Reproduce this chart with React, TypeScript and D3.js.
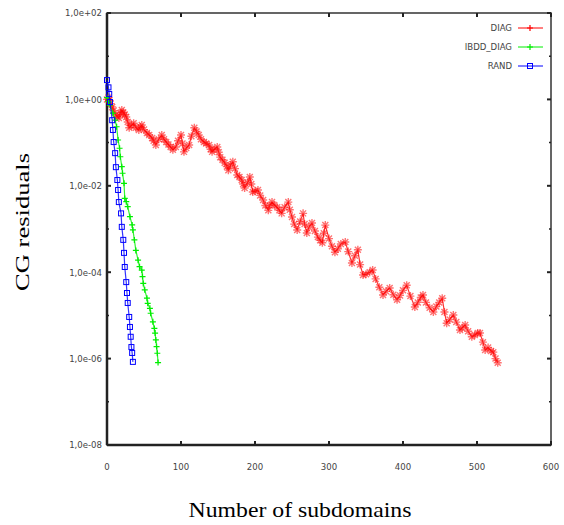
import React from 'react';
import * as d3 from 'd3';

// DIAG: iteration / residual
const diagIter = [0, 2, 3, 5, 7, 9, 12, 14, 16, 18, 20, 22, 24, 26, 28, 30, 33, 36, 39, 43, 45, 47, 50, 54, 57, 61, 63, 66, 70, 74, 77, 80, 83, 86, 89, 93, 96, 100, 102, 104, 107, 111, 114, 118, 121, 124, 127, 131, 134, 138, 140, 142, 145, 149, 151, 153, 156, 159, 162, 164, 167, 170, 173, 176, 179, 182, 184, 186, 190, 193, 195, 197, 200, 204, 207, 211, 214, 218, 220, 223, 226, 230, 233, 236, 240, 245, 247, 250, 253, 257, 261, 265, 267, 270, 273, 277, 281, 285, 288, 291, 293, 295, 300, 304, 308, 312, 316, 322, 326, 331, 335, 339, 342, 346, 350, 355, 359, 363, 368, 373, 377, 382, 387, 392, 396, 400, 405, 410, 416, 420, 424, 427, 431, 436, 441, 445, 449, 453, 456, 459, 463, 468, 472, 477, 480, 484, 488, 493, 497, 501, 504, 508, 511, 515, 519, 522, 525, 528];
const diagRes = [1.0, 1.1, 0.95, 0.8, 0.67, 0.55, 0.44, 0.4, 0.37, 0.48, 0.57, 0.5, 0.45, 0.39, 0.3, 0.22, 0.25, 0.28, 0.22, 0.196, 0.23, 0.255, 0.2, 0.167, 0.15, 0.128, 0.11, 0.088, 0.12, 0.15, 0.12, 0.103, 0.09, 0.079, 0.068, 0.079, 0.11, 0.15, 0.095, 0.061, 0.075, 0.088, 0.14, 0.22, 0.18, 0.15, 0.12, 0.103, 0.095, 0.088, 0.07, 0.061, 0.07, 0.079, 0.06, 0.046, 0.04, 0.034, 0.028, 0.023, 0.03, 0.036, 0.025, 0.0178, 0.016, 0.0136, 0.011, 0.0089, 0.012, 0.016, 0.011, 0.0072, 0.0075, 0.008, 0.006, 0.0047, 0.0035, 0.0027, 0.0035, 0.0042, 0.0036, 0.0032, 0.0027, 0.0023, 0.0032, 0.0042, 0.0028, 0.0019, 0.0013, 0.00095, 0.0015, 0.0023, 0.0013, 0.00081, 0.0011, 0.00138, 0.0009, 0.00065, 0.00055, 0.00048, 0.0008, 0.00123, 0.0006, 0.0004, 0.00029, 0.00035, 0.00045, 0.0005, 0.0003, 0.000163, 0.00024, 0.00033, 0.00015, 8.6e-5, 9e-5, 1.0e-4, 1.12e-4, 7e-5, 4.5e-5, 2.97e-5, 3.6e-5, 4.3e-5, 3.0e-5, 2.3e-5, 2.9e-5, 3.8e-5, 5.0e-5, 2.8e-5, 1.56e-5, 2.0e-5, 2.6e-5, 2.97e-5, 2.0e-5, 1.5e-5, 1.2e-5, 1.6e-5, 2.0e-5, 2.5e-5, 1.2e-5, 6.6e-6, 8e-6, 1.02e-5, 7e-6, 4.6e-6, 5.2e-6, 6.0e-6, 4.3e-6, 3.2e-6, 3.5e-6, 3.9e-6, 3.9e-6, 2.4e-6, 1.58e-6, 1.8e-6, 1.5e-6, 1.41e-6, 1.0e-6, 8.0e-7];

// IBDD_DIAG
const ibddIter = [0, 2, 4, 8, 11, 13, 15, 17, 18, 20, 21, 23, 24, 26, 28, 31, 34, 35, 37, 39, 42, 44, 47, 48, 49, 51, 54, 55, 58, 59, 62, 64, 65, 66, 67, 68, 69];
const ibddRes = [1.1, 0.885, 0.74, 0.48, 0.33, 0.233, 0.115, 0.074, 0.047, 0.0277, 0.0195, 0.0114, 0.0051, 0.0043, 0.0033, 0.00193, 0.00124, 0.00095, 5.6e-4, 3.2e-4, 1.9e-4, 1.34e-4, 1.12e-4, 7.9e-5, 5.5e-5, 3.9e-5, 2.5e-5, 1.9e-5, 1.46e-5, 1.12e-5, 7.1e-6, 5.0e-6, 3.9e-6, 2.7e-6, 1.9e-6, 1.33e-6, 8.1e-7];

// RAND
const randIter = [0, 2, 3, 4, 7, 8, 9, 11, 12, 14, 15, 16, 19, 20, 22, 23, 24, 26, 27, 28, 30, 31, 32, 33, 34, 35];
const randRes = [2.8, 1.9, 1.33, 0.87, 0.33, 0.196, 0.103, 0.057, 0.027, 0.0136, 0.008, 0.0042, 0.0023, 0.00112, 5.6e-4, 2.8e-4, 1.32e-4, 5.9e-5, 3.3e-5, 1.94e-5, 9.2e-6, 5.4e-6, 3.2e-6, 1.85e-6, 1.35e-6, 8.4e-7];

const xTicks = [0, 100, 200, 300, 400, 500, 600];
const yDecades = [1e2, 1e1, 1, 1e-1, 1e-2, 1e-3, 1e-4, 1e-5, 1e-6, 1e-7, 1e-8];
const yLabels = ['1,0e+02', '1,0e+00', '1,0e-02', '1,0e-04', '1,0e-06', '1,0e-08'];
const yLabelValues = [1e2, 1, 1e-2, 1e-4, 1e-6, 1e-8];

const series = [
  {name: 'DIAG', color: '#ff0000', iter: diagIter, res: diagRes, marker: 'star'},
  {name: 'IBDD_DIAG', color: '#00ee00', iter: ibddIter, res: ibddRes, marker: 'plus'},
  {name: 'RAND', color: '#0000ff', iter: randIter, res: randRes, marker: 'square'},
];

const W = 564;
const H = 525;
const plot = {left: 107, right: 551, top: 13, bottom: 445};
const tickFont = '"DejaVu Sans Condensed", "DejaVu Sans", sans-serif';
const titleFont = '"Liberation Serif", "Times New Roman", serif';

const Marker = ({type, x, y, color}: {type: string, x: number, y: number, color: string}) => {
  if (type === 'square') {
    return <rect x={x - 2.5} y={y - 2.5} width={5} height={5} fill="none" stroke={color} strokeWidth={1}/>;
  }
  if (type === 'plus') {
    return <path d={`M${x - 3},${y}H${x + 3}M${x},${y - 3}V${y + 3}`} stroke={color} strokeWidth={1.2}/>;
  }
  return <path d={`M${x - 4},${y}H${x + 4}M${x},${y - 4}V${y + 4}M${x - 3},${y - 3}L${x + 3},${y + 3}M${x - 3},${y + 3}L${x + 3},${y - 3}`}
               stroke={color} strokeWidth={1.4} strokeOpacity={0.55}/>;
};

export default function App() {
  const x = d3.scaleLinear().domain([0, 600]).range([plot.left, plot.right]);
  const y = d3.scaleLog().domain([1e-8, 1e2]).range([plot.bottom, plot.top]);

  const line = d3.line<[number, number]>()
      .x(d => x(d[0]))
      .y(d => y(d[1]));

  return (
      <svg width={W} height={H} style={{position: 'absolute', left: 0, top: 0, background: '#fff'}}>
        {/* frame */}
        <rect x={plot.left} y={plot.top} width={plot.right - plot.left} height={plot.bottom - plot.top}
              fill="none" stroke="#333" strokeWidth={1.5}/>
        <line x1={plot.left} x2={plot.left} y1={plot.top} y2={plot.bottom} stroke="#222" strokeWidth={2.5}/>
        <line x1={plot.left} x2={plot.right} y1={plot.bottom} y2={plot.bottom} stroke="#222" strokeWidth={2.5}/>

        {/* y ticks */}
        {yDecades.map((v, i) => {
          const major = yLabelValues.includes(v);
          const len = major ? 4 : 2;
          return (
              <g key={`y${i}`} stroke="#222" strokeWidth={major ? 2 : 1.5}>
                <line x1={plot.left} x2={plot.left + len} y1={y(v)} y2={y(v)}/>
                <line x1={plot.right} x2={plot.right - len} y1={y(v)} y2={y(v)}/>
              </g>
          );
        })}
        {yLabels.map((l, i) => (
            <text key={l} x={plot.left - 5} y={y(yLabelValues[i])} dy="0.35em" textAnchor="end"
                  fontFamily={tickFont} fontSize={9.5} fill="#444">{l}</text>
        ))}

        {/* x ticks */}
        {xTicks.map(t => (
            <g key={`x${t}`}>
              <line x1={x(t)} x2={x(t)} y1={plot.bottom} y2={plot.bottom - 4} stroke="#222" strokeWidth={2}/>
              <line x1={x(t)} x2={x(t)} y1={plot.top} y2={plot.top + 4} stroke="#222" strokeWidth={2}/>
              <text x={x(t)} y={plot.bottom + 25} textAnchor="middle" fontFamily={tickFont} fontSize={9.5}
                    fill="#444">{t}</text>
            </g>
        ))}

        {/* series */}
        {series.map(s => {
          const pts = s.iter.map((it, i) => [it, s.res[i]] as [number, number]);
          return (
              <g key={s.name}>
                <path d={line(pts) ?? ''} fill="none" stroke={s.color} strokeWidth={1.2} strokeOpacity={0.8}/>
                {pts.map((p, i) => <Marker key={i} type={s.marker} x={x(p[0])} y={y(p[1])} color={s.color}/>)}
              </g>
          );
        })}

        {/* legend */}
        {series.map((s, i) => {
          const ly = 28 + i * 19;
          return (
              <g key={`leg${s.name}`}>
                <text x={512} y={ly} dy="0.35em" textAnchor="end" fontFamily={tickFont} fontSize={9.5}
                      fill="#444">{s.name}</text>
                <line x1={518} x2={543} y1={ly} y2={ly} stroke={s.color} strokeWidth={1}/>
                <Marker type={s.marker === 'star' ? 'plus' : s.marker} x={530} y={ly} color={s.color}/>
              </g>
          );
        })}

        {/* axis titles */}
        <text transform={`translate(29,222) rotate(-90)`} textAnchor="middle" fontFamily={titleFont}
              fontSize={19} textLength={138} lengthAdjust="spacingAndGlyphs">CG residuals</text>
        <text x={300} y={517} textAnchor="middle" fontFamily={titleFont} fontSize={21}
              textLength={223} lengthAdjust="spacingAndGlyphs">Number of subdomains</text>
      </svg>
  );
}
